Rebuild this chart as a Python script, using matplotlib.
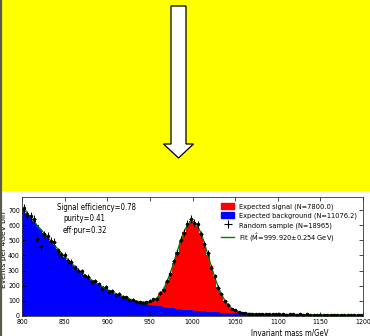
import matplotlib
matplotlib.use("Agg")
import matplotlib.pyplot as plt
import numpy as np
from matplotlib.patches import Rectangle, Polygon, Patch
from matplotlib.lines import Line2D

# ---------------- data ----------------
bin_lo = 800
bin_hi = 1200
bin_width = 4

background = [
    708, 680, 652, 625, 598, 572, 546, 520, 494, 468,
    442, 417, 393, 370, 348, 327, 307, 288, 270, 253,
    237, 222, 208, 195, 182, 170, 159, 148, 138, 129,
    120, 112, 104, 97, 91, 85, 80, 75, 71, 67,
    63, 59, 56, 53, 50, 47, 45, 42, 40, 38,
    36, 34, 32, 30, 29, 27, 26, 24, 23, 22,
    21, 20, 19, 18, 17, 16, 15.5, 15, 14.5, 14,
    13.5, 13, 12.5, 12, 11.5, 11, 10.8, 10.5, 10.2, 10,
    9.7, 9.4, 9.2, 9, 8.8, 8.6, 8.4, 8.2, 8, 7.8,
    7.6, 7.4, 7.2, 7, 6.9, 6.8, 6.7, 6.6, 6.5, 6.4,
]

signal = [
    0, 0, 0, 0, 0, 0, 0, 0, 0, 0,
    0, 0, 0, 0, 0, 0, 0, 0, 0, 0,
    0, 0, 0, 0, 0, 0, 0, 0, 0, 0,
    0, 0, 0, 1.4, 3, 5.6, 10, 18.5, 31, 51,
    80, 119, 170, 231, 302, 377, 450, 514, 561, 587,
    587, 561, 514, 450, 377, 302, 231, 170, 119, 80,
    51, 31, 18.5, 10, 5.6, 3, 1.4, 0.7, 0, 0,
    0, 0, 0, 0, 0, 0, 0, 0, 0, 0,
    0, 0, 0, 0, 0, 0, 0, 0, 0, 0,
    0, 0, 0, 0, 0, 0, 0, 0, 0, 0,
]

sample = [
    715, 668, 660, 640, 510, 460, 540, 530, 498, 490,
    430, 405, 400, 362, 355, 318, 300, 295, 262, 260,
    225, 230, 212, 180, 190, 160, 165, 140, 145, 125,
    124, 105, 108, 95, 90, 88, 92, 100, 110, 112,
    150, 172, 232, 280, 360, 418, 505, 550, 610, 640,
    615, 605, 540, 475, 415, 320, 262, 188, 148, 98,
    75, 48, 40, 27, 21, 20, 16, 15, 16, 13,
    14, 12, 13, 11, 12, 10, 12, 9, 11, 10,
    9, 10, 8, 10, 9, 8, 9, 7, 9, 8,
    7, 8, 6, 8, 7, 6, 8, 6, 7, 6,
]

label_signal = "Expected signal (N=7800.0)"
label_background = "Expected background (N=11076.2)"
label_sample = "Random sample (N=18965)"
label_fit = r"Fit ($\hat{\rm M}$=999.920$\pm$0.254 GeV)"
stats_lines = ["Signal efficiency=0.78", "purity=0.41", "eff\u00b7pur=0.32"]
x_ticks = [800, 850, 900, 950, 1000, 1050, 1100, 1150, 1200]
y_ticks = [0, 100, 200, 300, 400, 500, 600, 700]

# ---------------- figure ----------------
plt.rcParams["font.family"] = ["DejaVu Sans"]
plt.rcParams["font.stretch"] = "condensed"
plt.rcParams["mathtext.fontset"] = "dejavusans"

fig = plt.figure(figsize=(3.70, 3.36), dpi=100)
W, H = 370.0, 336.0

def fx(px):
    return px / W

def fy(py):
    return 1 - py / H

# yellow banner with arrow
fig.add_artist(Rectangle((0, fy(191)), 1, 191 / H, transform=fig.transFigure,
                         facecolor="#ffff00", edgecolor="none", zorder=0))
arrow_px = [(171, 6), (186, 6), (186, 144), (193.5, 144), (178.5, 158),
            (163.5, 144), (171, 144)]
fig.add_artist(Polygon([(fx(x), fy(y)) for x, y in arrow_px], closed=True,
                       transform=fig.transFigure, facecolor="white",
                       edgecolor="black", linewidth=0.9, zorder=2))
fig.add_artist(Line2D([0.0015, 0.0015], [0, 1], transform=fig.transFigure,
                      color="#5a5a50", linewidth=1.6, zorder=3))

ax = fig.add_axes([fx(22), fy(316), fx(363) - fx(22), fy(197) - fy(316)])

edges = np.arange(bin_lo, bin_hi, bin_width)
centers = edges + bin_width / 2
bg = np.array(background, dtype=float)
sg = np.array(signal, dtype=float)
smp = np.array(sample, dtype=float)

ax.bar(edges, bg, width=bin_width, align="edge", color="#0000ff", linewidth=0)
ax.bar(edges, sg, width=bin_width, bottom=bg, align="edge", color="#ff0000",
       linewidth=0)
ax.plot(centers, bg + sg, color="#008000", linewidth=1.0)
ax.errorbar(centers, smp, yerr=np.sqrt(smp), xerr=bin_width / 2,
            fmt="o", color="black", markersize=1.5, elinewidth=0.7, capsize=0)

ax.set_xlim(bin_lo, bin_hi)
ax.set_ylim(0, 786)
ax.set_xticks(x_ticks)
ax.set_yticks(y_ticks)
ax.tick_params(direction="in", top=True, right=True, length=3, width=0.5,
               labelsize=5.0)
ax.tick_params(axis="y", pad=1.6)
ax.tick_params(axis="x", pad=2.4)
for s in ax.spines.values():
    s.set_linewidth(0.6)
    s.set_color("#333333")

ax.set_ylabel("Events per 4GeV bin", fontsize=5.4, fontstretch="normal")
ax.yaxis.set_label_coords(-0.045, 0.555)
ax.set_xlabel("Invariant mass m/GeV", fontsize=5.6)
ax.xaxis.set_label_coords(0.786, -0.105)

ax.text(0.103, 0.91, stats_lines[0], transform=ax.transAxes, fontsize=5.6,
        ha="left", va="center")
ax.text(0.12, 0.82, stats_lines[1], transform=ax.transAxes, fontsize=5.6,
        ha="left", va="center")
ax.text(0.12, 0.717, stats_lines[2], transform=ax.transAxes, fontsize=5.6,
        ha="left", va="center")

handles = [Patch(color="#ff0000"), Patch(color="#0000ff"),
           Line2D([], [], color="black", marker="+", markersize=6,
                  markeredgewidth=0.8, linestyle="none"),
           Line2D([], [], color="#008000", linewidth=1.0)]
labels = [label_signal, label_background, label_sample, label_fit]
ax.legend(handles, labels, loc="upper right", frameon=False, fontsize=5.3,
          handlelength=1.7, handleheight=0.8, labelspacing=0.35,
          borderaxespad=0.4, handletextpad=0.7)

fig.savefig("out.png", dpi=100)
